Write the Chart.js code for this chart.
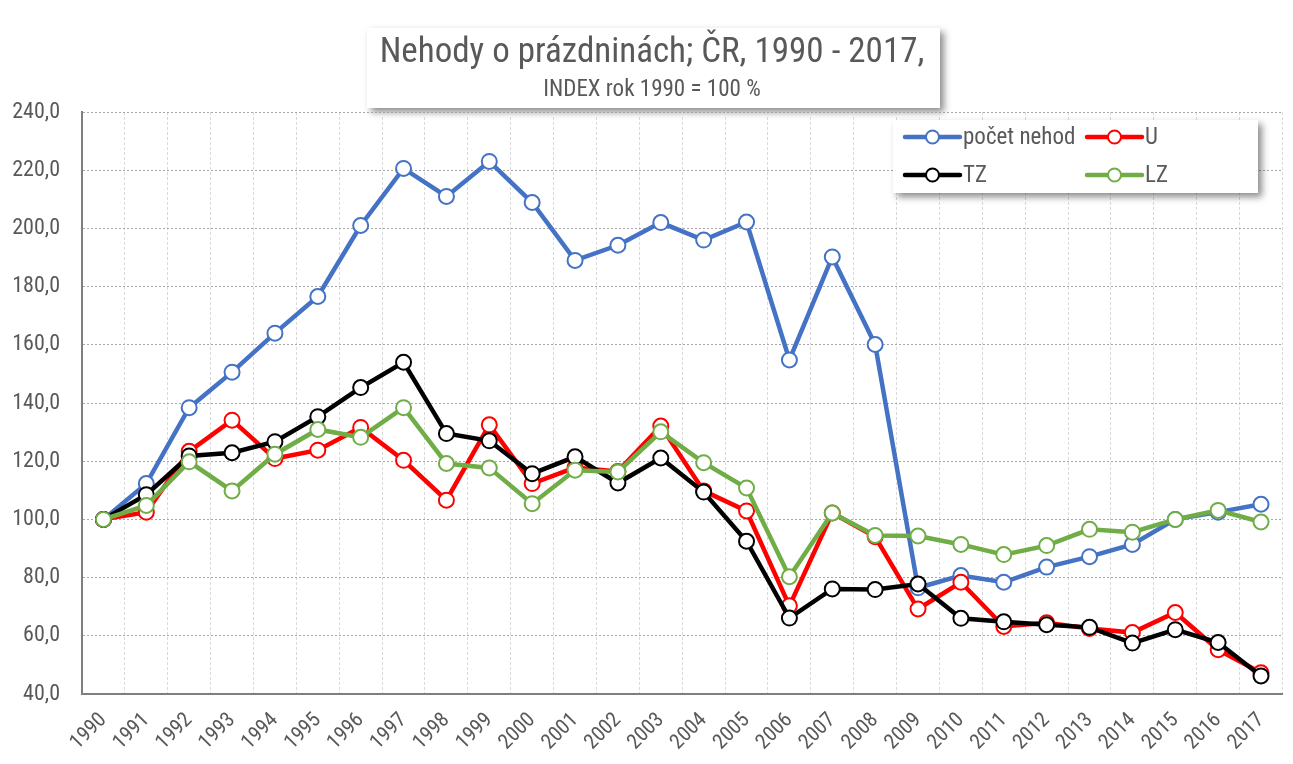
<!DOCTYPE html>
<html><head><meta charset="utf-8">
<script src="https://cdn.jsdelivr.net/npm/chart.js@4.4.1/dist/chart.umd.min.js"></script>
<style>html,body{margin:0;padding:0;background:#fff;} #wrap{width:1293px;height:764px;position:relative;}</style>
</head><body><div id="wrap"><canvas id="c"></canvas></div>
<script>
const years = ['1990','1991','1992','1993','1994','1995','1996','1997','1998','1999','2000','2001','2002','2003','2004','2005','2006','2007','2008','2009','2010','2011','2012','2013','2014','2015','2016','2017'];
const pocetNehod = [100,112.3,138.4,150.6,164.0,176.6,201.0,220.6,211.0,223.0,208.9,189.0,194.2,202.0,196.0,202.2,154.8,190.2,160.1,76.5,80.7,78.4,83.6,87.2,91.4,100.0,102.5,105.2];
const U  = [100,102.5,123.4,134.1,120.9,123.8,131.6,120.3,106.6,132.5,112.3,117.8,116.5,132.1,109.8,102.9,70.3,102.2,94.0,69.2,78.4,63.2,64.5,62.5,61.1,68.0,55.2,47.3];
const TZ = [100,108.5,121.8,122.9,126.7,135.3,145.3,154.0,129.5,127.0,115.7,121.5,112.5,121.1,109.4,92.5,66.1,76.1,75.9,77.8,66.0,64.8,63.8,62.9,57.5,62.1,57.7,46.2];
const LZ = [100,104.8,119.8,109.8,122.4,130.9,128.2,138.4,119.2,117.7,105.4,116.9,116.3,130.1,119.5,110.8,80.3,102.2,94.5,94.3,91.4,87.9,91.0,96.6,95.6,100.0,103.1,99.1];
const seriesNames = ['počet nehod','U','TZ','LZ'];
const seriesColors = ['#4472C4','#FF0000','#000000','#70AD47'];
const yMin = 40, yMax = 240, yStep = 20;
const titleText = 'Nehody o prázdninách; ČR, 1990 - 2017,';
const subtitleText = 'INDEX rok 1990 = 100 %';

const FONT = "'Roboto Condensed', 'Liberation Sans Narrow', 'Arial Narrow', 'Liberation Sans', Arial, sans-serif";
const TXT = '#595959';

function ds(label, data, color, order){
  return {label, data, borderColor: color, backgroundColor: color, borderWidth: 4.5,
    pointRadius: 7.5, pointHoverRadius: 7.5, pointBorderWidth: 2, pointBackgroundColor: '#fff',
    pointBorderColor: color, tension: 0, order};
}

const titleBoxPlugin = {
  id: 'titleBox',
  afterLayout(chart){
    chart.boxes.forEach(b => {
      if (b.options && (b.options.text === titleText || b.options.text === subtitleText)) {
        b.left += 8; b.right += 8;
      }
    });
  },
  beforeDraw(chart){
    const ctx = chart.ctx;
    ctx.save();
    ctx.shadowColor = 'rgba(0,0,0,0.45)'; ctx.shadowBlur = 7; ctx.shadowOffsetX = 4; ctx.shadowOffsetY = 4;
    ctx.fillStyle = '#fff';
    ctx.fillRect(367, 28, 573, 80);
    ctx.restore();
  }
};

const legendPlugin = {
  id: 'boxLegend',
  afterDraw(chart){
    const ctx = chart.ctx;
    const x0 = 893, y0 = 120, w = 365, h = 73;
    ctx.save();
    ctx.shadowColor = 'rgba(0,0,0,0.45)'; ctx.shadowBlur = 7; ctx.shadowOffsetX = 4; ctx.shadowOffsetY = 4;
    ctx.fillStyle = '#fff'; ctx.fillRect(x0, y0, w, h);
    ctx.restore();
    const slots = [[905,137],[1087,137],[905,175],[1087,175]];
    chart.data.datasets.forEach((d, i) => {
      const [x, y] = slots[i];
      ctx.save();
      ctx.strokeStyle = d.borderColor; ctx.lineWidth = 4.5; ctx.lineCap = 'round';
      ctx.beginPath(); ctx.moveTo(x, y); ctx.lineTo(x + 55, y); ctx.stroke();
      ctx.beginPath(); ctx.arc(x + 27.5, y, 6.5, 0, Math.PI*2);
      ctx.fillStyle = '#fff'; ctx.fill(); ctx.lineWidth = 2; ctx.stroke();
      ctx.fillStyle = TXT; ctx.font = '23px ' + FONT; ctx.textBaseline = 'middle'; ctx.textAlign = 'left';
      ctx.fillText(d.label, x + 58, y + 1);
      ctx.restore();
    });
  }
};

new Chart(document.getElementById('c'), {
  type: 'line',
  data: {
    labels: years,
    datasets: [
      ds(seriesNames[0], pocetNehod, seriesColors[0], 4),
      ds(seriesNames[1], U, seriesColors[1], 3),
      ds(seriesNames[2], TZ, seriesColors[2], 2),
      ds(seriesNames[3], LZ, seriesColors[3], 1)
    ]
  },
  options: {
    responsive: true, maintainAspectRatio: false, animation: false,
    layout: {padding: {left: 0, right: 5, top: 28, bottom: 0}},
    plugins: {
      legend: {display: false},
      tooltip: {enabled: false},
      title: {display: true, text: titleText, color: TXT, font: {family: FONT, size: 35, weight: 'normal', lineHeight: 1.0}, padding: {top: 8, bottom: 0}},
      subtitle: {display: true, text: subtitleText, color: TXT, font: {family: FONT, size: 23, weight: 'normal', lineHeight: 1.0}, padding: {top: 8, bottom: 10}}
    },
    scales: {
      x: {
        offset: true,
        grid: {offset: true, color: '#d9d9d9', drawTicks: false, lineWidth: 1},
        border: {display: true, color: '#7f7f7f', width: 2, dash: [3,2]},
        ticks: {color: TXT, font: {family: FONT, size: 21}, minRotation: 45, maxRotation: 45, padding: 14, autoSkip: false},
        afterFit(s){ s.height = 70; }
      },
      y: {
        min: yMin, max: yMax,
        grid: {color: '#a6a6a6', drawTicks: false, lineWidth: 1},
        border: {display: true, color: '#7f7f7f', width: 2, dash: [2,2]},
        ticks: {stepSize: yStep, color: TXT, font: {family: FONT, size: 22}, padding: 22,
          callback: v => v.toFixed(1).replace('.', ',')},
        afterFit(s){ s.width = 82; }
      }
    }
  },
  plugins: [titleBoxPlugin, legendPlugin]
});
</script>
</body></html>
